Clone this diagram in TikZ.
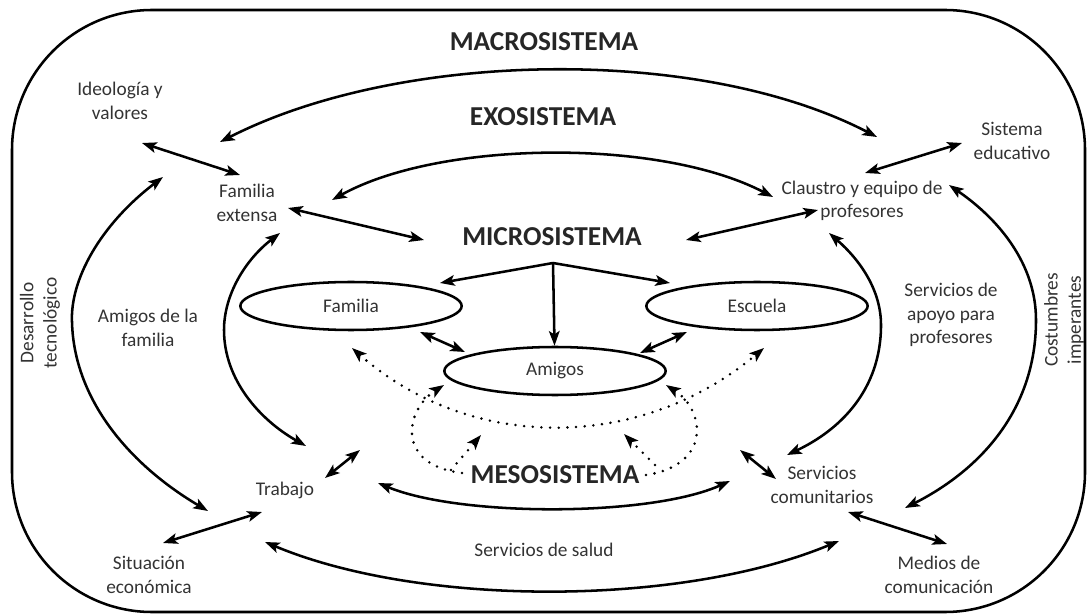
\documentclass[tikz,border=0pt]{standalone}
\usepackage{fontspec}
\setmainfont{Carlito}
\usetikzlibrary{arrows.meta,shapes.geometric}
\definecolor{txtgray}{HTML}{333333}

\begin{document}
\begin{tikzpicture}[x=0.75pt, y=-0.75pt, line width=1.9pt,
    >={Stealth[length=11pt,width=8pt,inset=2.5pt]},
    lbl/.style={align=center, text=txtgray, font=\fontsize{14.5}{17.5}\selectfont},
    sys/.style={font=\fontsize{20.5}{24}\selectfont\bfseries, text=black!85},
    ell/.style={draw, ellipse, minimum width=166pt, minimum height=36pt, inner sep=0pt, lbl},
    dots/.style={line width=2.1pt, line cap=round, dash pattern=on 0pt off 6.5pt}]
    \useasboundingbox (0,0) rectangle (1088,616);
    \draw[rounded corners=105pt] (12,10) rectangle (1085,612);

    % sistemas
    \node[sys] (macro) at (544,42) {MACROSISTEMA};
    \node[sys] (exo) at (543,117) {EXOSISTEMA};
    \node[sys] (micro) at (552,237) {MICROSISTEMA};
    \node[sys] (meso) at (555,475) {MESOSISTEMA};

    \node[ell] (fam) at (351,306) {Familia};
    \node[ell] (esc) at (757,306) {Escuela};
    \node[ell] (ami) at (555,371) {Amigos};

    \node[lbl] (ideo) at (120,101) {Ideología y\\valores};
    \node[lbl] (famext) at (247,203) {Familia\\extensa};
    \node[lbl] (claustro) at (862,201) {Claustro y equipo de\\profesores};
    \node[lbl] (siseduc) at (1012,141) {Sistema\\educativo};
    \node[lbl] (amifam) at (148,328) {Amigos de la\\familia};
    \node[lbl] (apoyo) at (951,315) {Servicios de\\apoyo para\\profesores};
    \node[lbl, rotate=90] (desarr) at (40,323) {Desarrollo\\tecnológico};
    \node[lbl, rotate=90] (costum) at (1064,320) {Costumbres\\imperantes};
    \node[lbl] (trabajo) at (285,490) {Trabajo};
    \node[lbl] (sitecon) at (149,575) {Situación\\económica};
    \node[lbl] (salud) at (544,550) {Servicios de salud};
    \node[lbl] (servcom) at (822,485) {Servicios\\comunitarios};
    \node[lbl] (medios) at (939,575) {Medios de\\comunicación};

    % extremos de flechas
    \coordinate (ideoA) at (142,143);
    \coordinate (famextA) at (240,175);
    \coordinate (famextB) at (288,208);
    \coordinate (microA) at (424,240);
    \coordinate (microB) at (686,240);
    \coordinate (claustroA) at (818,210);
    \coordinate (claustroB) at (865,173);
    \coordinate (siseducA) at (962,143);
    \coordinate (macroL) at (220,142);
    \coordinate (macroR) at (877,137);
    \coordinate (exoL) at (332,200);
    \coordinate (exoR) at (773,197);
    \coordinate (desarrT) at (163,177);
    \coordinate (desarrB) at (208,511);
    \coordinate (amifamT) at (280,233);
    \coordinate (amifamB) at (306,446);
    \coordinate (apoyoT) at (829,233);
    \coordinate (apoyoB) at (787,455);
    \coordinate (costumT) at (949,185);
    \coordinate (costumB) at (905,508);
    \coordinate (famA) at (420,332);
    \coordinate (amiA) at (465,352);
    \coordinate (escA) at (687,332);
    \coordinate (amiB) at (640,353);
    \coordinate (trabajoA) at (262,512);
    \coordinate (sitA) at (163,543);
    \coordinate (trabajoB) at (325,478);
    \coordinate (mesoL) at (360,450);
    \coordinate (servcomA) at (776,479);
    \coordinate (mesoR) at (740,450);
    \coordinate (servcomB) at (848,512);
    \coordinate (mediosA) at (947,544);
    \coordinate (mesoArcL) at (378,483);
    \coordinate (mesoArcR) at (730,481);
    \coordinate (saludL) at (265,542);
    \coordinate (saludR) at (839,541);
    \coordinate (mbr) at (553,263);
    \coordinate (famTop) at (440,283);
    \coordinate (escTop) at (670,283);
    \coordinate (dotL) at (352,348);
    \coordinate (dotR) at (764,348);
    \coordinate (loopL) at (462,473);
    \coordinate (loopLT) at (444,385);
    \coordinate (shortL) at (451,470);
    \coordinate (shortLT) at (481,435);
    \coordinate (loopR) at (646,475);
    \coordinate (loopRT) at (666,385);
    \coordinate (shortR) at (655,465);
    \coordinate (shortRT) at (624,434);

    \draw[<->] (ideoA) -- (famextA);
    \draw[<->] (famextB) -- (microA);
    \draw[<->] (microB) -- (claustroA);
    \draw[<->] (claustroB) -- (siseducA);
    \draw[<->] (macroL) .. controls (400,50) and (700,45) .. (macroR);
    \draw[<->] (exoL) .. controls (440,140) and (660,138) .. (exoR);
    \draw[<->] (desarrT) .. controls (100,225) and (70,280) .. (72,322)
        .. controls (74,400) and (130,465) .. (desarrB);
    \draw[<->] (amifamT) .. controls (245,260) and (224,295) .. (224,330)
        .. controls (224,380) and (260,420) .. (amifamB);
    \draw[<->] (apoyoT) .. controls (860,260) and (881,290) .. (881,325)
        .. controls (881,390) and (840,430) .. (apoyoB);
    \draw[<->] (costumT) .. controls (1000,220) and (1036,265) .. (1036,320)
        .. controls (1036,410) and (980,470) .. (costumB);
    \draw[->] (mbr) -- (famTop);
    \draw[->] (mbr) -- (ami);
    \draw[->] (mbr) -- (escTop);
    \draw[<->] (famA) -- (amiA);
    \draw[<->] (escA) -- (amiB);
    \draw[<->] (trabajoA) -- (sitA);
    \draw[<->] (trabajoB) -- (mesoL);
    \draw[<->] (servcomA) -- (mesoR);
    \draw[<->] (servcomB) -- (mediosA);
    \draw[<->] (mesoArcL) .. controls (460,517) and (650,517) .. (mesoArcR);
    \draw[<->] (saludL) .. controls (420,607) and (680,607) .. (saludR);

    % mesosistema punteado
    \draw[dots, <->] (dotL) .. controls (470,452) and (640,452) .. (dotR);
    \draw[dots, ->] (loopL) .. controls (395,465) and (405,410) .. (loopLT);
    \draw[dots, ->] (shortL) -- (shortLT);
    \draw[dots, ->] (loopR) .. controls (712,465) and (705,410) .. (loopRT);
    \draw[dots, ->] (shortR) -- (shortRT);
\end{tikzpicture}
\end{document}
